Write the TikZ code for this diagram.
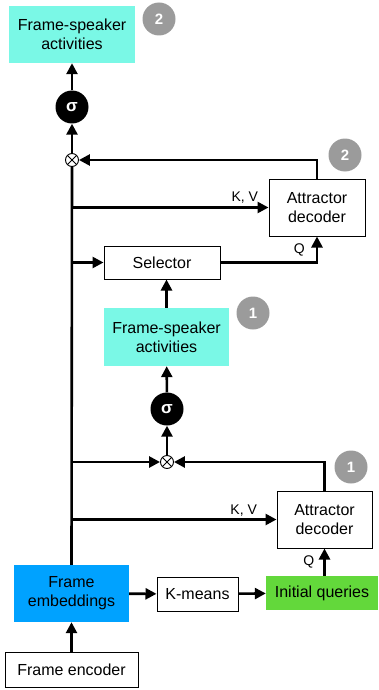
\documentclass[tikz,border=0pt]{standalone}
\usepackage{fontspec}
\setmainfont{Liberation Sans}
\usetikzlibrary{arrows.meta,positioning,calc}
\definecolor{actc}{HTML}{7AF8E6}
\definecolor{embc}{HTML}{00A2FF}
\definecolor{iqc}{HTML}{63D83B}
\definecolor{badgec}{HTML}{9B9B9B}

\begin{document}
\begin{tikzpicture}[x=1pt, y=-1pt,
      box/.style={draw, line width=1pt, fill=white, inner sep=0pt, align=center, font=\fontsize{16}{19}\selectfont},
      fillbox/.style={inner sep=0pt, align=center, font=\fontsize{16}{19}\selectfont},
      sig/.style={circle, fill=black, minimum size=33pt, inner sep=0pt, text=white, font=\bfseries\fontsize{17}{17}\selectfont},
      mult/.style={circle, draw, fill=white, line width=0.9pt, minimum size=13pt, inner sep=0pt,
        path picture={\draw[line width=0.9pt] (path picture bounding box.north west) -- (path picture bounding box.south east)
          (path picture bounding box.north east) -- (path picture bounding box.south west);}},
      badge/.style={circle, fill=badgec, minimum size=33pt, inner sep=0pt, text=white, font=\bfseries\fontsize{15}{15}\selectfont},
      lbl/.style={font=\fontsize{14}{14}\selectfont, inner sep=2pt},
      arr/.style={-{Triangle[length=11pt, width=11pt]}, line width=2.6pt},
      ln/.style={line width=2.6pt}]
    \useasboundingbox (0,0) rectangle (378,690);
    % top branch (2)
    \node[fillbox, fill=actc, minimum width=126pt, minimum height=57pt] (act2) at (72,34.5) {Frame-speaker\\activities};
    \node[badge] (bdg2a) at (159,19) {2};
    \node[sig] (sig2) at (72,107) {σ};
    \node[mult] (mul2) at (72,160) {};
    \node[box, minimum width=96pt, minimum height=57pt] (dec2) at (317,207.5) {Attractor\\decoder};
    \node[badge] (bdg2b) at (345,155) {2};
    \node[box, minimum width=116pt, minimum height=33pt] (sel) at (162,262.5) {Selector};
    % bottom branch (1)
    \node[fillbox, fill=actc, minimum width=125pt, minimum height=58pt] (act1) at (166.5,337) {Frame-speaker\\activities};
    \node[badge] (bdg1a) at (253,313) {1};
    \node[sig] (sig1) at (167,409) {σ};
    \node[mult] (mul1) at (167,462) {};
    \node[badge] (bdg1b) at (351,467) {1};
    \node[box, minimum width=95pt, minimum height=57pt] (dec1) at (324.5,519.5) {Attractor\\decoder};
    % input side
    \node[fillbox, fill=embc, minimum width=115pt, minimum height=57pt] (emb) at (71.5,593.5) {Frame\\embeddings};
    \node[box, minimum width=81pt, minimum height=34pt] (km) at (197.5,594) {K-means};
    \node[fillbox, fill=iqc, minimum width=112pt, minimum height=34pt] (iq) at (322,593) {Initial queries};
    \node[box, minimum width=133pt, minimum height=35pt] (enc) at (71.5,669.5) {Frame encoder};

    \draw[arr] (enc) -- (emb);
    \draw[arr] (emb) -- (km);
    \draw[arr] (km) -- (iq);
    \draw[ln] (emb.north) -- (mul2.south);
    \draw[arr] (dec1.south |- iq.north) -- (dec1.south) node[lbl, midway, left=7pt] {Q};
    \draw[arr] (emb.north |- dec1.west) -- (dec1.west) node[lbl, pos=0.84, above] {K, V};
    \draw[arr] (emb.north |- mul1) -- (mul1);
    \draw[arr] (dec1.north) |- (mul1);
    \draw[arr] (mul1) -- (sig1);
    \draw[arr] (sig1) -- (act1);
    \draw[arr] (act1.north) -- (act1.north |- sel.south);
    \draw[arr] (emb.north |- sel.west) -- (sel.west);
    \draw[arr] (sel.east) -| (dec2.south) node[lbl, pos=0.75, left=9pt] {Q};
    \draw[arr] (emb.north |- dec2.west) -- (dec2.west) node[lbl, pos=0.88, above=1pt] {K, V};
    \draw[arr] (dec2.north) |- (mul2);
    \draw[arr] (mul2) -- (sig2);
    \draw[arr] (sig2) -- (act2);
  \end{tikzpicture}
\end{document}
